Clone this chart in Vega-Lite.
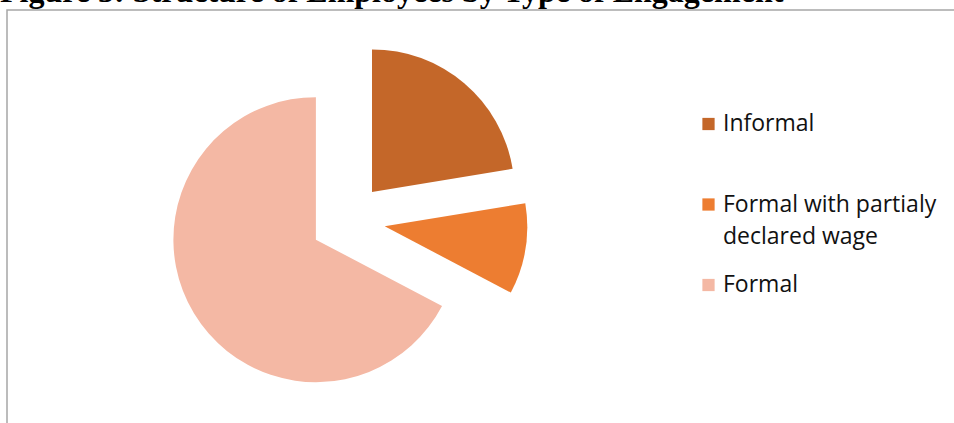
{
  "$schema": "https://vega.github.io/schema/vega-lite/v6.json",
  "autosize": {"type": "none"},
  "width": 960,
  "height": 420,
  "padding": {"left": 7, "top": 10, "right": 0, "bottom": 0},
  "background": "white",
  "title": {
    "text": "Figure 3: Structure of Employees by Type of Engagement",
    "anchor": "start",
    "frame": "group",
    "orient": "top",
    "baseline": "alphabetic",
    "offset": -24,
    "dx": -7,
    "font": "Liberation Serif",
    "fontSize": 32,
    "fontWeight": "bold",
    "color": "#000000"
  },
  "data": {
    "values": [
      {"type": "Informal", "share": 22.4},
      {"type": "Formal with partialy declared wage", "share": 10.3},
      {"type": "Formal", "share": 67.3}
    ]
  },
  "transform": [
    {"window": [{"op": "row_number", "as": "idx"}]},
    {"window": [{"op": "sum", "field": "share", "as": "cum"}], "sort": [{"field": "idx"}], "frame": [null, 0]},
    {"joinaggregate": [{"op": "sum", "field": "share", "as": "total"}]},
    {"calculate": "2 * PI * (datum.cum - datum.share / 2) / datum.total", "as": "mid"},
    {"calculate": "0.262 * sin(datum.mid)", "as": "ex"},
    {"calculate": "0.262 * cos(datum.mid)", "as": "ey"}
  ],
  "mark": {"type": "arc", "radius": 142.5, "stroke": null},
  "encoding": {
    "theta": {"field": "share", "type": "quantitative", "stack": true},
    "order": {"field": "idx", "type": "quantitative"},
    "x": {"field": "ex", "type": "quantitative", "axis": null, "scale": {"domain": [-2.392, 4.345], "zero": false, "nice": false}},
    "y": {"field": "ey", "type": "quantitative", "axis": null, "scale": {"domain": [-1.471, 1.476], "zero": false, "nice": false}},
    "color": {
      "field": "type",
      "type": "nominal",
      "sort": ["Informal", "Formal with partialy declared wage", "Formal"],
      "scale": {
        "domain": ["Informal", "Formal with partialy declared wage", "Formal"],
        "range": ["#C46729", "#ED7D31", "#F4B8A4"]
      },
      "legend": {
        "title": null,
        "orient": "none",
        "legendX": 690,
        "legendY": 102.5,
        "padding": 0,
        "symbolType": "square",
        "symbolSize": 150,
        "symbolStrokeWidth": 0,
        "labelFont": "Open Sans",
        "labelFontSize": 23,
        "labelColor": "#111111",
        "labelLimit": 0,
        "labelOffset": 3,
        "rowPadding": 24.5,
        "labelExpr": "datum.label == 'Formal with partialy declared wage' ? ['Formal with partialy', 'declared wage'] : datum.label == 'Informal' ? ['Informal', ''] : datum.label",
        "encode": {"labels": {"update": {"lineHeight": {"value": 32}}}}
      }
    }
  },
  "config": {
    "view": {"stroke": "#a6a6a6", "strokeWidth": 1.5},
    "style": {"guide-label": {"lineHeight": 32}}
  }
}
